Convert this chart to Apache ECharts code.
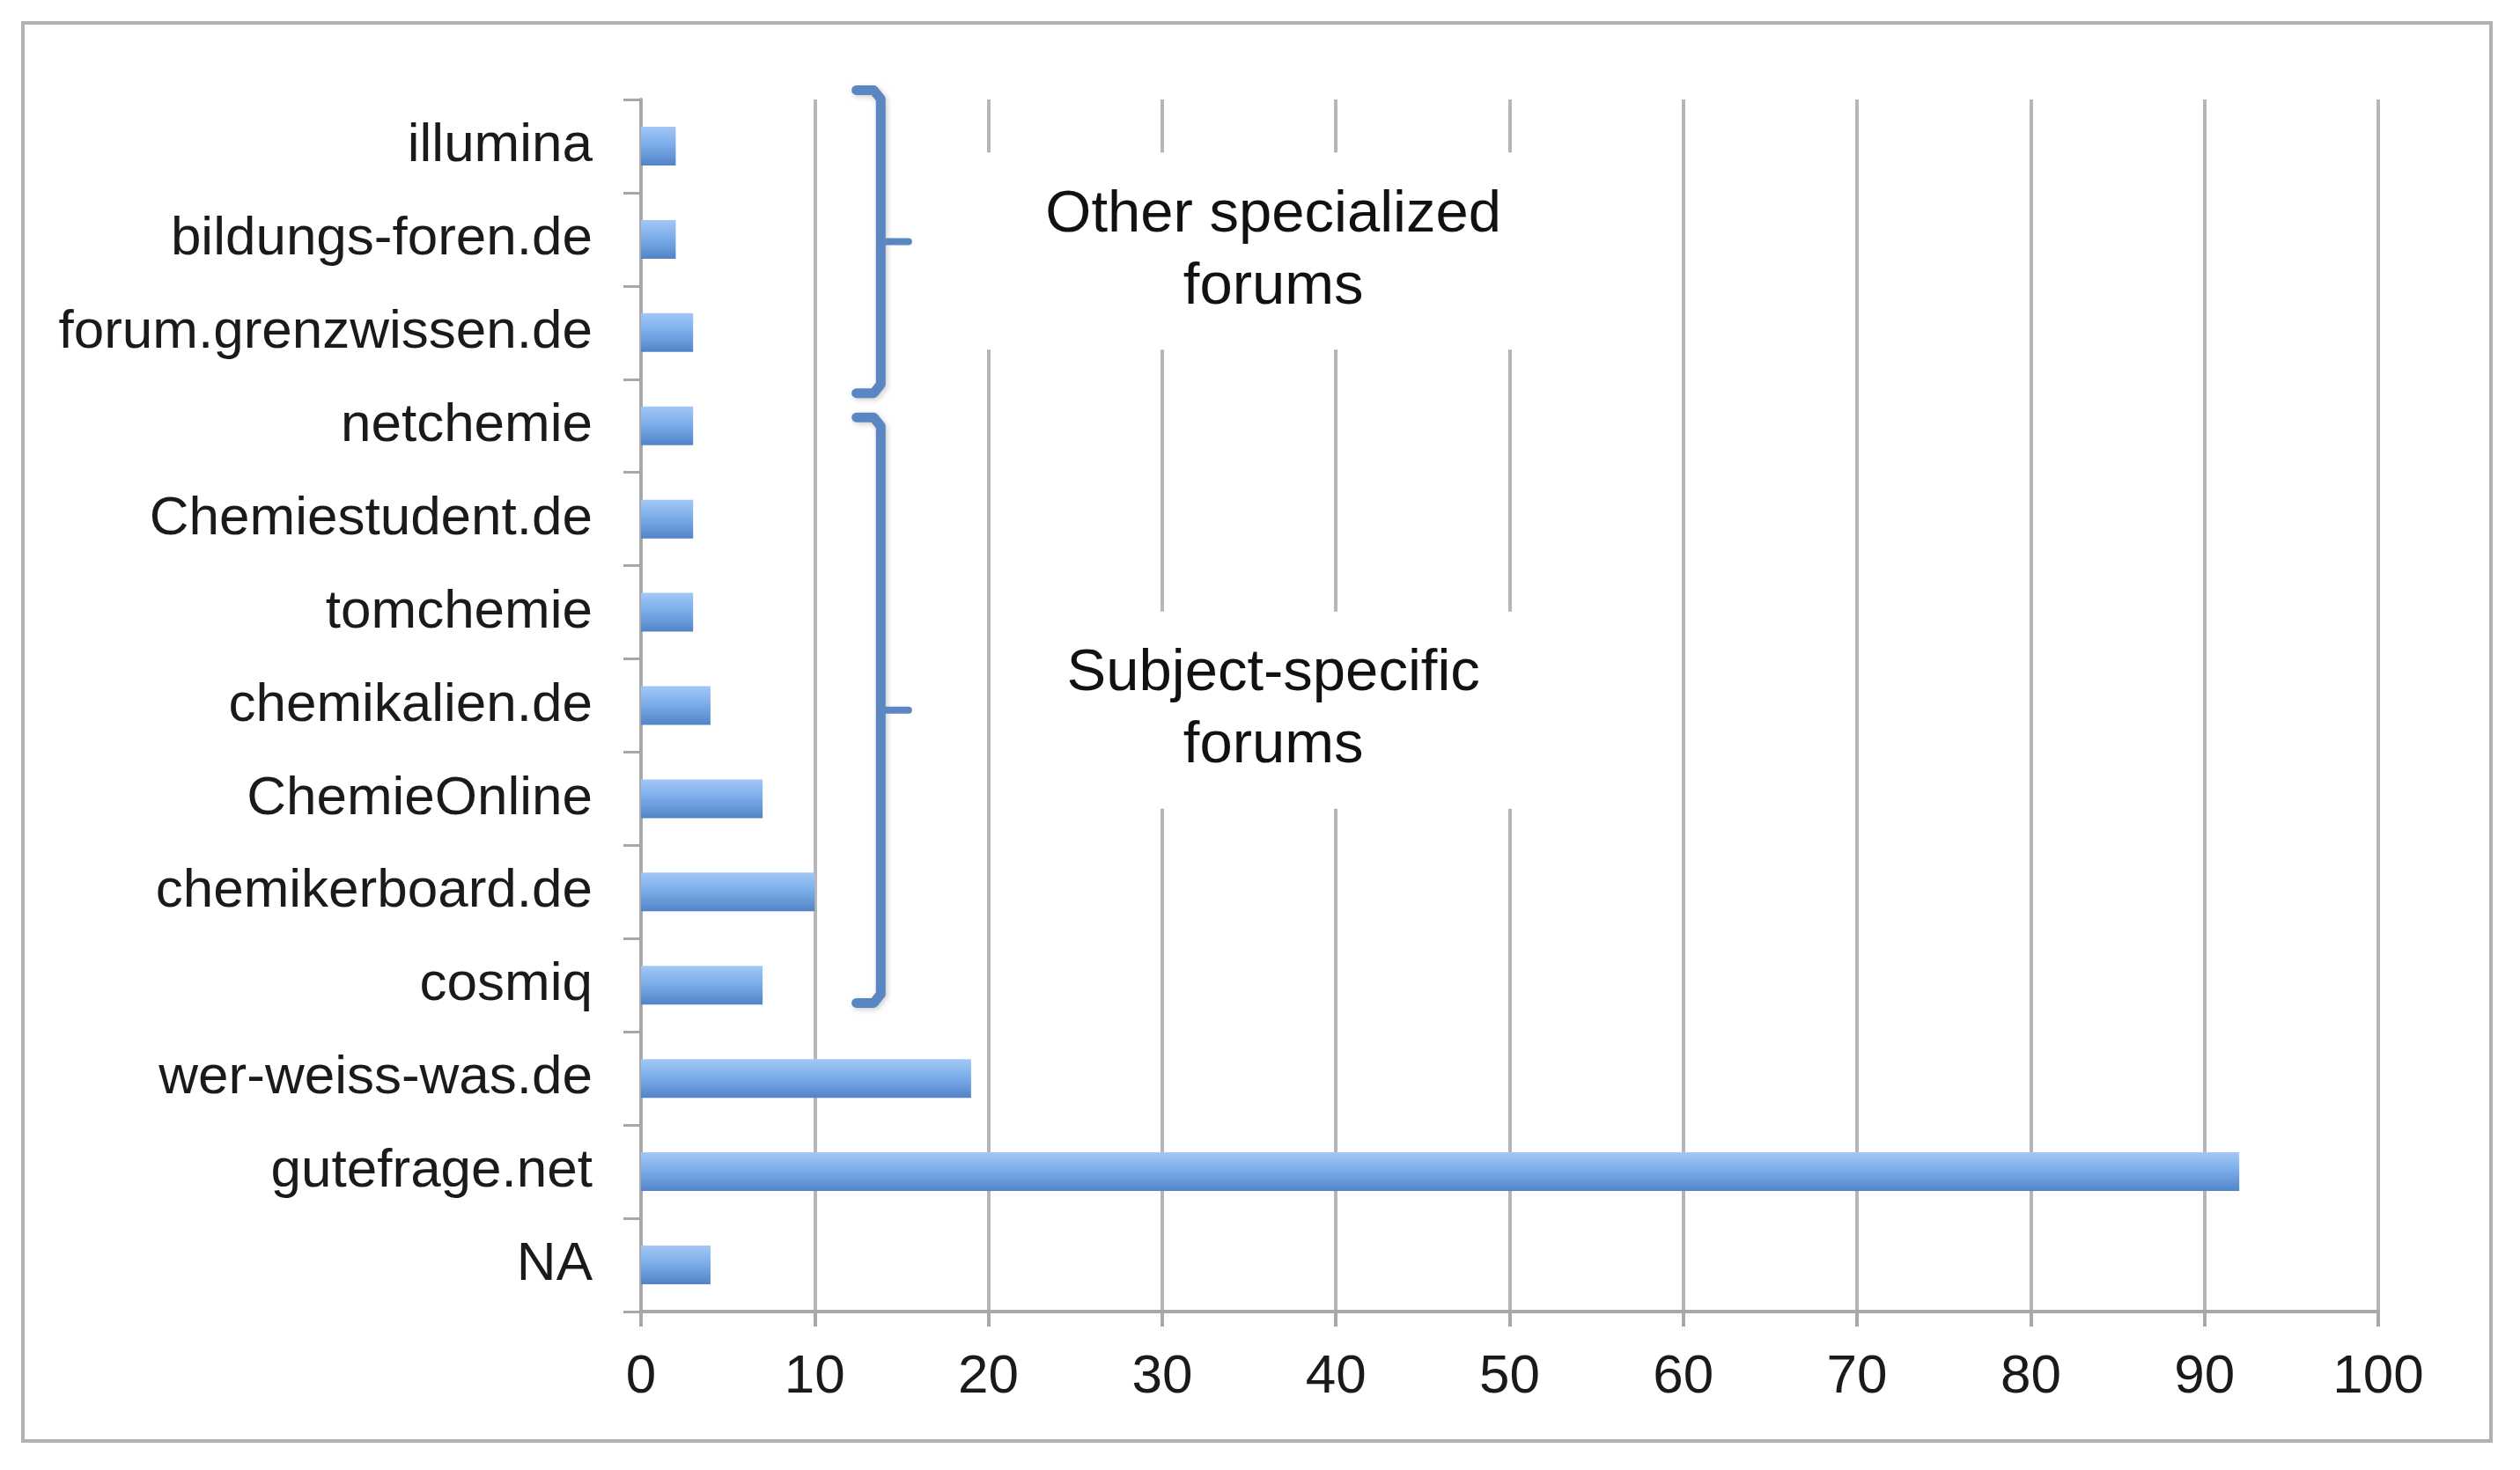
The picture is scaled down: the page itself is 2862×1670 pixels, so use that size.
<!DOCTYPE html>
<html>
<head>
<meta charset="utf-8">
<title>Forums</title>
<script src="https://cdn.jsdelivr.net/npm/echarts@6/dist/echarts.min.js"></script>
<style>
  html, body { margin: 0; padding: 0; background: #fff; }
  #main { width: 2862px; height: 1670px; }
</style>
</head>
<body>
<div id="main"></div>
<script>
// categories from top to bottom
const forums = [
  'illumina',
  'bildungs-foren.de',
  'forum.grenzwissen.de',
  'netchemie',
  'Chemiestudent.de',
  'tomchemie',
  'chemikalien.de',
  'ChemieOnline',
  'chemikerboard.de',
  'cosmiq',
  'wer-weiss-was.de',
  'gutefrage.net',
  'NA'
]
const counts = [2, 2, 3, 3, 3, 3, 4, 7, 10, 7, 19, 92, 4]
const xTicks = [0, 10, 20, 30, 40, 50, 60, 70, 80, 90, 100]

// bracket groups: first and last forum in each group
const groupLabels = ['Other specialized\nforums', 'Subject-specific\nforums']
const groupFirst = ['illumina', 'netchemie']
const groupLast = ['forum.grenzwissen.de', 'cosmiq']

const FONT = 'Liberation Sans, Arial, Helvetica, sans-serif'
const GRID = '#b6b6b6'
const BRACE = '#5a86c2'

const chart = echarts.init(document.getElementById('main'))

const option = {
  backgroundColor: '#fff',
  animation: false,
  grid: { left: 728, right: 161, top: 113, bottom: 180 },
  xAxis: {
    type: 'value',
    min: xTicks[0],
    max: xTicks[xTicks.length - 1],
    interval: 10,
    axisLine: { show: true, lineStyle: { color: '#a8a8a8', width: 4 } },
    axisTick: { show: true, length: 17, lineStyle: { color: '#a8a8a8', width: 4 } },
    splitLine: { show: true, lineStyle: { color: GRID, width: 4 } },
    axisLabel: {
      color: '#1a1a1a',
      fontFamily: FONT,
      fontSize: 62,
      lineHeight: 62,
      margin: 44
    }
  },
  yAxis: {
    type: 'category',
    inverse: true,
    data: forums,
    axisLine: { show: true, lineStyle: { color: '#a8a8a8', width: 4 } },
    axisTick: { show: true, length: 20, interval: 0, lineStyle: { color: '#a8a8a8', width: 3 } },
    splitLine: { show: false },
    axisLabel: {
      color: '#1a1a1a',
      fontFamily: FONT,
      fontSize: 62,
      margin: 55,
      interval: 0
    }
  },
  series: [
    {
      type: 'bar',
      data: counts,
      barWidth: 44,
      itemStyle: {
        color: new echarts.graphic.LinearGradient(0, 0, 0, 1, [
          { offset: 0, color: '#a2c7f6' },
          { offset: 0.45, color: '#7daeea' },
          { offset: 1, color: '#5283c8' }
        ]),
        shadowColor: 'rgba(0, 0, 0, 0.38)',
        shadowBlur: 14,
        shadowOffsetX: 4,
        shadowOffsetY: 8
      }
    }
  ]
}
chart.setOption(option)

// pixel position for a value on x and a fractional category position on y
function toPx (v, p) {
  const a = chart.convertToPixel({ gridIndex: 0 }, [v, 0])
  const b = chart.convertToPixel({ gridIndex: 0 }, [v, 1])
  return [a[0], a[1] + p * (b[1] - a[1])]
}

function drawBrackets () {
  const offsets = [[-0.6, 0.65], [-0.09, 0.19]]
  const textShift = [0.1, 0]
  const els = []
  groupLabels.forEach((label, i) => {
    const top = forums.indexOf(groupFirst[i]) + offsets[i][0]
    const bottom = forums.indexOf(groupLast[i]) + offsets[i][1]
    const mid = (top + bottom) / 2
    const hookL = toPx(12.4, 0)[0]
    const stem = toPx(13.8, 0)[0]
    const tipR = toPx(15.4, 0)[0]
    const yTop = toPx(0, top)[1]
    const yBot = toPx(0, bottom)[1]
    const yMid = toPx(0, mid)[1]
    els.push({
      type: 'polyline',
      shape: { points: [[hookL, yTop], [stem - 8, yTop], [stem, yTop + 10], [stem, yBot - 10], [stem - 8, yBot], [hookL, yBot]] },
      style: { stroke: BRACE, lineWidth: 11, fill: null, lineJoin: 'round', lineCap: 'round', shadowColor: 'rgba(0,0,0,0.2)', shadowBlur: 6, shadowOffsetX: 2, shadowOffsetY: 2 },
      z: 10
    })
    els.push({
      type: 'line',
      shape: { x1: stem, y1: yMid, x2: tipR, y2: yMid },
      style: { stroke: BRACE, lineWidth: 8, lineCap: 'round' },
      z: 10
    })
    const c = toPx(36.4, mid + textShift[i])
    els.push({
      type: 'text',
      x: c[0],
      y: c[1],
      style: {
        text: label,
        font: '67px ' + FONT,
        fill: '#111',
        align: 'center',
        verticalAlign: 'middle',
        lineHeight: 82,
        backgroundColor: '#fff',
        padding: [30, 80]
      },
      z: 5
    })
  })
  // outer frame
  els.push({
    type: 'rect',
    shape: { x: 26, y: 26, width: 2803, height: 1611 },
    style: { stroke: '#b2b2b2', lineWidth: 4, fill: null },
    z: 1
  })
  chart.setOption({ graphic: els })
}
drawBrackets()
</script>
</body>
</html>
